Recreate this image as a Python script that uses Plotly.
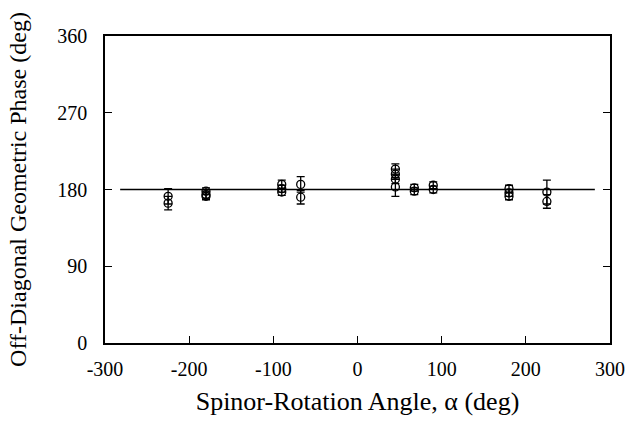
import plotly.graph_objects as go

# Data
alpha = [-225, -225, -180, -180, -180, -90, -90, -90, -67.5, -67.5,
         45, 45, 45, 45, 67.5, 67.5, 90, 90, 180, 180, 180, 225, 225]
phase = [172, 164, 178, 174, 172, 186, 181, 177, 186, 171,
         204, 198, 192, 183, 182, 178, 185, 180, 181, 176, 172, 177, 166]
err = [9, 8, 4, 4, 4, 5, 4, 4, 9, 8,
       6, 6, 5, 11, 4, 4, 4, 4, 4, 4, 4, 14, 8]

ref_x = [-282, 282]
ref_y = [180, 180]

xticks = [-300, -200, -100, 0, 100, 200, 300]
xticktext = ["-300", "-200", "-100", "0", "100", "200", "300"]
yticks = [0, 90, 180, 270, 360]

font = "Liberation Serif"

fig = go.Figure()
fig.add_trace(go.Scatter(x=ref_x, y=ref_y, mode="lines",
                         line=dict(color="black", width=1.5), showlegend=False))
fig.add_trace(go.Scatter(
    x=alpha, y=phase, mode="markers",
    marker=dict(symbol="circle-open", size=8, color="black", line=dict(width=1.3)),
    error_y=dict(type="data", array=err, color="black", thickness=1.3, width=4),
    showlegend=False))

fig.update_layout(
    width=642, height=428,
    margin=dict(l=105, r=32, t=36, b=85),
    paper_bgcolor="white", plot_bgcolor="white",
    font=dict(family=font, size=20, color="black"),
)
fig.update_xaxes(range=[-300, 300], tickvals=xticks, ticktext=xticktext,
                 ticks="inside", ticklen=7, tickwidth=1.2, tickcolor="black",
                 ticklabelstandoff=7,
                 showline=True, linecolor="black", linewidth=1.5, mirror=True,
                 showgrid=False, zeroline=False,
                 title=dict(text="Spinor-Rotation Angle, α (deg)", font=dict(size=26), standoff=13))
fig.update_yaxes(range=[0, 360], tickvals=yticks, ticks="inside", ticklen=7,
                 tickwidth=1.2, tickcolor="black", ticklabelstandoff=12,
                 showline=True, linecolor="black", linewidth=1.5, mirror="ticks",
                 showgrid=False, zeroline=False,
                 title=dict(text="Off-Diagonal Geometric Phase (deg)", font=dict(size=24), standoff=24))

fig.write_html("out.html", config={"displayModeBar": False},
               post_script="document.body.style.margin='0';")
